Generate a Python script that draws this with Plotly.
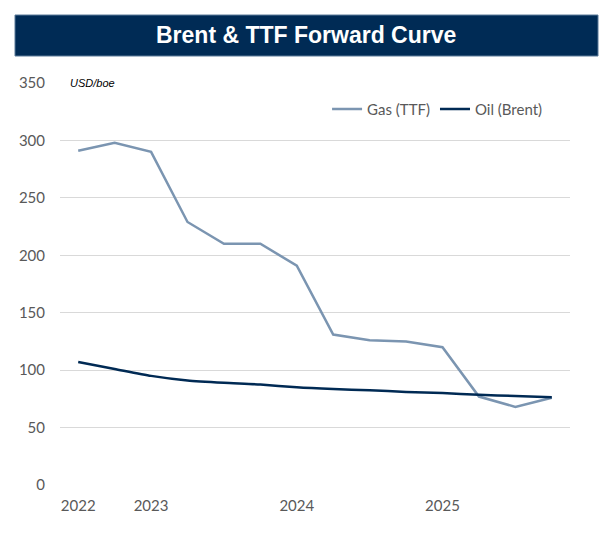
import plotly.graph_objects as go

periods = ["2022Q3", "2022Q4", "2023Q1", "2023Q2", "2023Q3", "2023Q4",
           "2024Q1", "2024Q2", "2024Q3", "2024Q4", "2025Q1", "2025Q2",
           "2025Q3", "2025Q4"]
gas_ttf = [291, 298, 290, 229, 210, 210, 191, 131, 126, 125, 120, 77, 68, 76]
oil_brent = [107, 101, 95, 91, 89, 87.5, 85, 83.5, 82.5, 81, 80, 78.5, 77.5, 76.5]
tick_vals = ["2022Q3", "2023Q1", "2024Q1", "2025Q1"]
tick_text = ["2022", "2023", "2024", "2025"]

fig = go.Figure()
fig.add_trace(go.Scatter(x=periods, y=gas_ttf, mode="lines", name="Gas (TTF)",
                         line=dict(color="#7b95b1", width=2.5)))
fig.add_trace(go.Scatter(x=periods, y=oil_brent, mode="lines", name="Oil (Brent)",
                         line=dict(color="#002a54", width=2.5, shape="spline", smoothing=0.6)))

font_fam = "Lato, 'Noto Sans', sans-serif"
# page body has 8px margin: figure occupies page x 8..611, y 8..550
fig.update_layout(
    width=603, height=542,
    margin=dict(l=52, r=41, t=75, b=65),
    paper_bgcolor="white", plot_bgcolor="white",
    font=dict(family=font_fam, color="#595959", size=15),
    xaxis=dict(type="category", range=[-0.5, 13.5], tickmode="array",
               tickvals=tick_vals, ticktext=tick_text, showgrid=False,
               showline=False, zeroline=False, tickfont=dict(size=15, color="#595959"),
               ticklabelstandoff=10),
    yaxis=dict(range=[0, 350], dtick=50, showgrid=True, gridcolor="#d9d9d9",
               gridwidth=1, zeroline=False, showline=False,
               tickfont=dict(size=15, color="#595959"), ticklabelstandoff=14),
    legend=dict(orientation="h", x=0.957, xanchor="right", y=0.935, yanchor="middle",
                bgcolor="rgba(0,0,0,0)", font=dict(size=15, color="#595959"),
                itemwidth=30, tracegroupgap=0),
    showlegend=True,
)

# Title banner
fig.add_shape(type="rect", xref="paper", yref="paper",
              x0=(15 - 60) / 510, x1=(598 - 60) / 510,
              y0=(485 - 56) / 402, y1=(485 - 15) / 402,
              fillcolor="#002b55", line=dict(color="#5a7a99", width=1), layer="above")
fig.add_annotation(text="<b>Brent & TTF Forward Curve</b>", xref="paper", yref="paper",
                   x=(306 - 60) / 510, y=(485 - 35) / 402, xanchor="center", yanchor="middle",
                   showarrow=False,
                   font=dict(family="'Liberation Sans', Arial, sans-serif", size=23, color="white"))

# unit label covering gridline
fig.add_shape(type="rect", xref="paper", yref="paper",
              x0=0, x1=(124 - 60) / 510, y0=(485 - 90) / 402, y1=(485 - 76) / 402,
              fillcolor="white", line=dict(width=0), layer="above")
fig.add_annotation(text="<i>USD/boe</i>", xref="paper", yref="paper",
                   x=(68 - 60) / 510, y=1.0, xanchor="left", yanchor="middle",
                   showarrow=False,
                   font=dict(family="'Liberation Sans', Arial, sans-serif", size=11, color="black"))

fig.write_html("out.html")
